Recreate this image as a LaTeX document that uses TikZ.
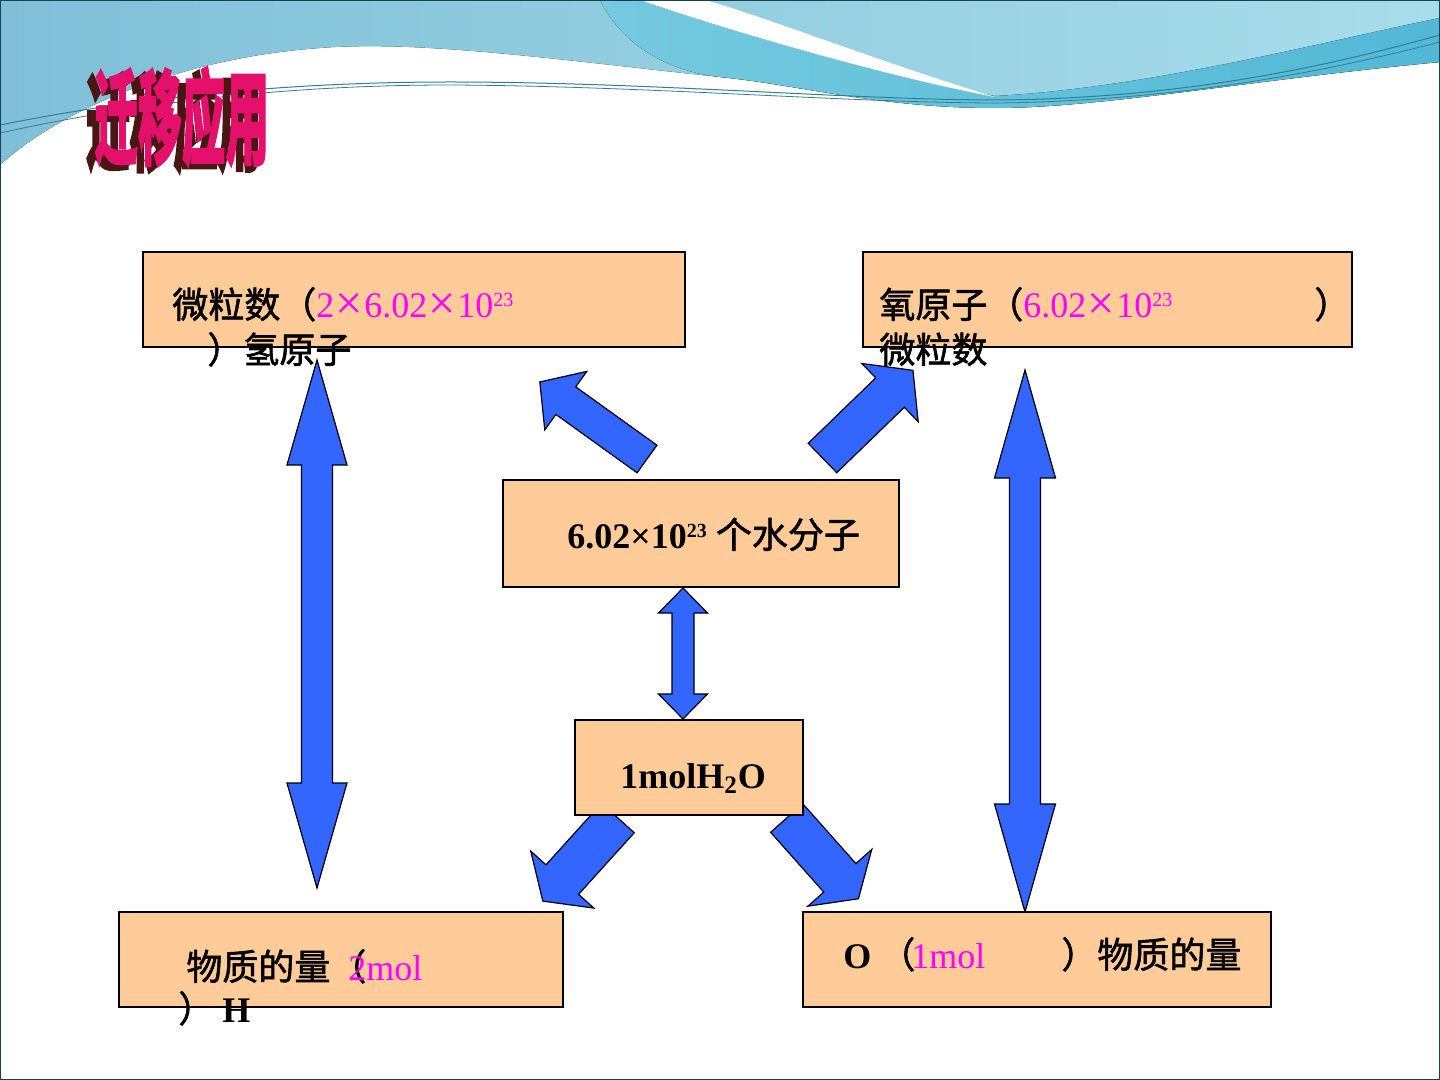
\documentclass[tikz,border=0pt]{standalone}
\usepackage{fontspec}
\setmainfont{Liberation Serif}
\newfontfamily\cjk[FakeBold=1.6]{Noto Sans CJK SC}
\newfontfamily\cjktitle[FakeBold=5]{Noto Sans CJK SC Bold}
\usetikzlibrary{calc}

\definecolor{boxfill}{HTML}{FFCC99}
\definecolor{arrowblue}{HTML}{3366FF}
\definecolor{mag}{HTML}{FF00FF}
\definecolor{skyL}{HTML}{7FC0D8}
\definecolor{skyR}{HTML}{A8DDEA}
\definecolor{bandL}{HTML}{74CADF}
\definecolor{bandR}{HTML}{52B8D6}
\definecolor{wireteal}{HTML}{2F7F95}
\definecolor{titlepink}{HTML}{E5106C}
\definecolor{titlebrown}{HTML}{4A1612}
\definecolor{frameteal}{HTML}{16434F}

% big times sign and small exponent of the number lines
\newcommand{\cjktimes}{\makebox[15pt]{\raisebox{-0.8pt}{\scalebox{1.35}{×}}}}
\newcommand{\expo}[1]{\raisebox{5.5pt}{\fontsize{10}{10}\selectfont #1}}

% block arrow: tail, angle, length, head length, shaft half, head half
\newcommand{\fatarrow}[6]{%
  \draw[fatline, shift={#1}, rotate=#2] (0,-#5) -- ({#3-#4},-#5) -- ({#3-#4},-#6) -- (#3,0)
    -- ({#3-#4},#6) -- ({#3-#4},#5) -- (0,#5) -- cycle;}

% upright double block arrow: x, top tip, bottom tip, head length, shaft half, head half
\newcommand{\twoarrow}[6]{%
  \draw[fatline] (#1,#2) -- ({#1+#6},{#2+#4}) -- ({#1+#5},{#2+#4}) -- ({#1+#5},{#3-#4})
    -- ({#1+#6},{#3-#4}) -- (#1,#3) -- ({#1-#6},{#3-#4}) -- ({#1-#5},{#3-#4})
    -- ({#1-#5},{#2+#4}) -- ({#1-#6},{#2+#4}) -- cycle;}

\begin{document}
\begin{tikzpicture}[
    x=0.5pt, y=-0.5pt,
    box/.style={rectangle, draw=black, line width=0.6pt, fill=boxfill, inner sep=0pt},
    fatline/.style={draw=black, line width=0.6pt, fill=arrowblue, line join=miter},
    txt/.style={anchor=base west, inner sep=0pt, font=\fontsize{18}{22}\selectfont},
    titletxt/.style={anchor=west, inner sep=0pt, font=\cjktitle\fontsize{52}{52}\selectfont}
]
\useasboundingbox (0,0) rectangle (1440,1080);
\fill[white] (0,0) rectangle (1440,1080);

% background waves
\fill[left color=skyL, right color=skyR] (0,0) -- (1440,0) -- (1440,62)
  .. controls (1250,80) and (1100,108) .. (995,108) .. controls (880,108) and (800,85) .. (720,77)
  .. controls (560,60) and (420,40) .. (320,48) .. controls (180,58) and (60,110) .. (0,165) -- cycle;
\fill[left color=bandL, right color=bandR] (640,0) .. controls (720,28) and (880,75) .. (995,96)
  .. controls (1150,88) and (1330,40) .. (1440,18) -- (1440,62)
  .. controls (1250,80) and (1100,108) .. (995,108) .. controls (880,108) and (800,85) .. (720,77)
  .. controls (660,70) and (620,40) .. (600,0) -- cycle;
\fill[white] (640,0) .. controls (720,28) and (880,75) .. (995,97)
  .. controls (880,62) and (760,15) .. (705,0) -- cycle;
\draw[wireteal, line width=0.5pt] (0,125) .. controls (150,95) and (300,82) .. (450,82)
  .. controls (650,82) and (850,100) .. (1000,100) .. controls (1200,98) and (1350,60) .. (1440,35);
\draw[wireteal, line width=0.4pt] (0,133) .. controls (150,100) and (300,85) .. (450,85)
  .. controls (650,86) and (850,103) .. (1000,103) .. controls (1200,100) and (1350,65) .. (1440,42);
\draw[frameteal, line width=1pt] (0,0) rectangle (1440,1080);

% title
\node[titletxt, text=titlebrown] (titleshade) at (86,122) {\scalebox{0.42}[1]{迁移应用}};
\node[titletxt, text=titlepink, font=\cjk\bfseries\fontsize{52}{52}\selectfont] (title) at (94,117) {\scalebox{0.42}[1]{迁移应用}};

% block arrows
\twoarrow{317}{360}{888}{105}{15.5}{30}
\twoarrow{1025}{370}{912}{108}{15.5}{30.5}
\twoarrow{683}{588}{719}{25}{11}{24.5}
\fatarrow{(647,459)}{144.3}{132}{32}{17}{36}
\fatarrow{(822.5,458)}{44.1}{126}{32}{20.5}{40.5}
\fatarrow{(617.9,818)}{227.9}{112}{29}{22}{42.5}
\fatarrow{(786.7,818)}{-48.4}{108}{28}{21.5}{42.7}

% boxes
\node[box, minimum width=271pt, minimum height=47.5pt] (hbox) at (414,299.5) {};
\node[box, minimum width=244.5pt, minimum height=47.5pt] (obox) at (1107.5,299.5) {};
\node[box, minimum width=198pt, minimum height=53.5pt] (nbox) at (701,533.5) {};
\node[box, minimum width=114pt, minimum height=47.5pt] (mbox) at (689,767.5) {};
\node[box, minimum width=222pt, minimum height=47.5pt] (hmolbox) at (341,959.5) {};
\node[box, minimum width=234pt, minimum height=47.5pt] (omolbox) at (1037,959.5) {};

% texts
\node[txt] (hcount) at (172,318) {\cjk 微粒数（\rmfamily\color{mag}2\cjktimes 6.02\cjktimes 10\expo{23}};
\node[txt] (hcountb) at (207,363) {\cjk ）氢原子};
\node[txt] (ocount) at (879,318) {\cjk 氧原子（\rmfamily{\color{mag}6.02\cjktimes 10\expo{23}}\hspace{71pt}\cjk ）};
\node[txt] (ocountb) at (879,363) {\cjk 微粒数};
\node[txt] (ncount) at (567,548) {\bfseries 6.02×10\expo{\bfseries 23} {\mdseries\cjk 个水分子}};
\node[txt] (mtxt) at (620,788) {\bfseries 1molH\textsubscript{2}O};
\node[txt] (hmol) at (186,980) {\cjk 物质的量（\hspace{-9pt}\rmfamily\color{mag}2mol};
\node[txt] (hmolb) at (178,1022) {\cjk ）\hspace{4pt}\rmfamily\bfseries H};
\node[txt] (omol) at (843,968) {\bfseries O\hspace{4pt}\mdseries\cjk （\hspace{-2pt}\rmfamily{\color{mag}1mol}\hspace{38pt}\cjk ）物质的量};
\end{tikzpicture}
\end{document}
